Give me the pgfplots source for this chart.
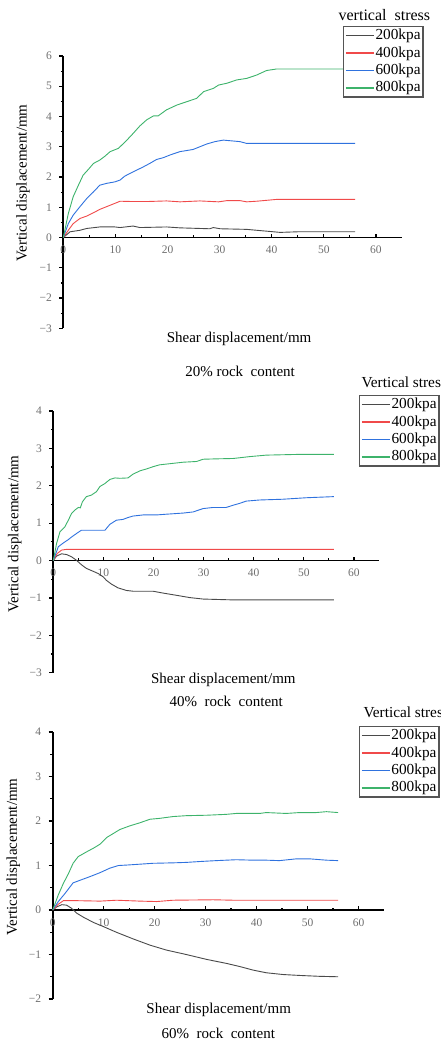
\documentclass[border=0pt]{standalone}
\usepackage{pgfplots}
\pgfplotsset{compat=1.18}
\usepackage{fontspec}
\setmainfont{Liberation Serif}

\definecolor{c200}{HTML}{4A4A4A}
\definecolor{c400}{HTML}{F04A4A}
\definecolor{c600}{HTML}{2F72DE}
\definecolor{c800}{HTML}{3DB36B}
\definecolor{frame}{HTML}{555555}
\definecolor{tickgray}{HTML}{6E6E6E}

\newcommand{\labfont}{\fontsize{15}{17}\selectfont}
\newcommand{\legfont}{\fontsize{15.3}{17}\selectfont}
\newcommand{\legtitlefont}{\fontsize{16}{18}\selectfont}

\pgfplotsset{
  shearplot/.style={
    scale only axis,
    anchor=south west,
    axis x line=middle,
    axis y line=left,
    axis line style={line width=1.8pt,-},
    xmin=0, xmax=65,
    xtick={0,10,...,60},
    xticklabels={0,10,20,30,40,50,60},
    minor x tick num=1,
    minor y tick num=1,
    xtick align=inside,
    ytick align=outside,
    major tick length=4pt,
    minor tick length=2.5pt,
    tick style={black,line width=1.2pt},
    hide obscured x ticks=false,
    hide obscured y ticks=false,
    ticklabel style={font=\fontsize{11.5}{12}\selectfont, text=tickgray},
    xticklabel style={yshift=-5pt},
    yticklabel style={xshift=-4pt},
    clip=false,
    every axis plot/.append style={line width=0.9pt},
    legend style={draw=frame, line width=1.3pt, font=\legfont,
      anchor=north west, inner sep=1.5pt, row sep=2.4pt,
      nodes={inner sep=1pt, text height=10.5pt, text depth=2.5pt},
      cells={anchor=west}},
    legend image code/.code={\draw[#1, line width=1.3pt] (1pt,0pt) -- (29pt,0pt);},
  },
  xlab/.style 2 args={every axis x label/.style={at={(axis description cs:#1,#2)}, anchor=center, font=\labfont}},
  ylab/.style 2 args={every axis y label/.style={at={(axis description cs:#1,#2)}, anchor=center, rotate=90, font=\labfont}},
  ttl/.style 2 args={every axis title/.style={at={(axis description cs:#1,#2)}, anchor=center, font=\labfont}},
}

\begin{document}
\begin{tikzpicture}
\path[use as bounding box] (0pt,0pt) rectangle (441pt,-1043pt);

% ---------- 20% rock content ----------
\begin{axis}[shearplot,
  at={(63.3pt,-328.3pt)}, width=338.7pt, height=272.3pt,
  ymin=-3, ymax=6, ytick={-3,...,6},
  yticklabels={−3,−2,−1,0,1,2,3,4,5,6},
  xlabel={Shear displacement/mm}, xlab={0.519}{-0.039},
  ylabel={Vertical displacement/mm}, ylab={-0.119}{0.534},
  title={20\% rock\ \ content}, ttl={0.522}{-0.160},
  legend style={at={(axis description cs:0.826,1.110)}},
]
\addplot[c200] coordinates {(0,0)(1.3,0.19)(3.2,0.24)(4.5,0.3)(7.0,0.35)(9.9,0.35)(10.9,0.33)(13.4,0.38)(14.7,0.33)(17.3,0.34)(19.8,0.35)(22.4,0.32)(26.2,0.3)(28.1,0.29)(28.8,0.33)(30.1,0.29)(35.2,0.27)(38.4,0.22)(39.7,0.2)(41.6,0.17)(45,0.19)(56,0.19)};
\addplot[c400] coordinates {(0,0)(0.96,0.24)(1.9,0.46)(3.2,0.63)(4.5,0.71)(5.8,0.82)(7.0,0.93)(8.3,1.02)(9.9,1.13)(10.9,1.2)(13.4,1.19)(16,1.19)(19.8,1.21)(22.4,1.18)(26.2,1.21)(29.8,1.18)(31.4,1.22)(33.9,1.22)(35.2,1.18)(37.1,1.2)(39,1.23)(40.9,1.26)(56,1.26)};
\addplot[c600] coordinates {(0,0)(0.96,0.46)(1.9,0.74)(3.2,1.02)(4.5,1.29)(5.8,1.51)(7.0,1.73)(8.3,1.79)(9.9,1.84)(10.9,1.9)(11.8,2.03)(13.4,2.17)(14.7,2.28)(15.4,2.34)(16.6,2.45)(17.9,2.58)(19.2,2.64)(20.5,2.73)(22.4,2.84)(24.9,2.91)(26.2,3.0)(27.5,3.09)(29.1,3.17)(30.7,3.22)(32.0,3.2)(33.9,3.17)(35.2,3.11)(56,3.11)};
\addplot[c800] coordinates {(0,0)(0.96,0.79)(1.9,1.35)(2.9,1.73)(3.8,2.06)(4.8,2.25)(5.8,2.45)(7.0,2.56)(8.0,2.69)(9.0,2.84)(10.6,2.95)(12.2,3.22)(13.4,3.44)(14.7,3.69)(16.0,3.89)(17.3,4.02)(18.2,4.02)(19.8,4.22)(21.8,4.38)(23.7,4.49)(25.6,4.6)(26.9,4.82)(28.8,4.93)(29.8,5.04)(31.4,5.1)(33.3,5.21)(35.2,5.26)(37.1,5.37)(39.0,5.52)(40.9,5.57)(56,5.57)};
\legend{200kpa,400kpa,600kpa,800kpa}
\end{axis}
\node[font=\legtitlefont] at (384.4pt,-15pt) {vertical\ \ stress};

% ---------- 40% rock content ----------
\begin{axis}[shearplot,
  at={(53.3pt,-672.7pt)}, width=325.7pt, height=261.7pt,
  ymin=-3, ymax=4, ytick={-3,...,4},
  yticklabels={−3,−2,−1,0,1,2,3,4},
  xlabel={Shear displacement/mm}, xlab={0.522}{-0.028},
  ylabel={Vertical displacement/mm}, ylab={-0.118}{0.530},
  title={40\%\ \ rock\ \ content}, ttl={0.531}{-0.111},
  legend style={at={(axis description cs:0.939,1.061)}},
]
\addplot[c200] coordinates {(0,0)(0.66,0.12)(1.66,0.18)(2.66,0.16)(3.65,0.1)(4.6,0.01)(5.6,-0.11)(6.6,-0.21)(8.0,-0.29)(9.0,-0.35)(10.0,-0.44)(10.6,-0.53)(11.6,-0.63)(12.9,-0.73)(14.6,-0.8)(15.9,-0.82)(19.9,-0.82)(21.9,-0.87)(24.6,-0.93)(27.2,-0.99)(29.9,-1.03)(32.5,-1.04)(35.2,-1.05)(56,-1.05)};
\addplot[c400] coordinates {(0,0)(0.8,0.19)(1.66,0.28)(2.66,0.3)(56,0.3)};
\addplot[c600] coordinates {(0,0)(1.0,0.37)(2.0,0.47)(3.0,0.56)(3.65,0.63)(4.6,0.72)(5.6,0.81)(6.6,0.81)(10.3,0.81)(11.3,0.97)(12.6,1.08)(13.9,1.1)(14.9,1.15)(15.9,1.19)(17.9,1.22)(20.6,1.22)(22.6,1.24)(25.9,1.27)(27.9,1.3)(29.9,1.39)(31.9,1.42)(34.5,1.42)(35.9,1.48)(37.2,1.53)(38.5,1.59)(41.2,1.62)(45.8,1.64)(50.5,1.68)(56,1.71)};
\addplot[c800] coordinates {(0,0)(0.66,0.46)(1.33,0.77)(2.3,0.9)(3.0,1.08)(3.65,1.26)(4.3,1.35)(5.0,1.42)(5.4,1.41)(5.8,1.57)(6.6,1.71)(7.6,1.75)(8.6,1.84)(9.3,1.98)(10.3,2.06)(11.3,2.17)(12.3,2.21)(13.3,2.2)(14.9,2.21)(15.9,2.31)(17.3,2.4)(18.6,2.45)(19.9,2.51)(21.2,2.56)(23.9,2.6)(25.9,2.63)(28.6,2.65)(29.9,2.71)(32.5,2.72)(35.9,2.73)(39.2,2.78)(42.5,2.82)(49.1,2.84)(56,2.84)};
\legend{200kpa,400kpa,600kpa,800kpa}
\end{axis}
\node[font=\legfont, anchor=west] at (358pt,-382pt) {Vertical stress};

% ---------- 60% rock content ----------
\begin{axis}[shearplot,
  at={(52.7pt,-999pt)}, width=331.3pt, height=267pt,
  ymin=-2, ymax=4, ytick={-2,...,4},
  yticklabels={−2,−1,0,1,2,3,4},
  xlabel={Shear displacement/mm}, xlab={0.501}{-0.039},
  ylabel={Vertical displacement/mm}, ylab={-0.119}{0.532},
  title={60\%\ \ rock\ \ content}, ttl={0.5}{-0.128},
  legend style={at={(axis description cs:0.9245,1.0225)}},
]
\addplot[c200] coordinates {(0,0)(0.8,0.07)(1.8,0.12)(2.7,0.11)(3.7,0.04)(4.7,-0.07)(6.0,-0.16)(8.0,-0.28)(9.9,-0.37)(12.5,-0.5)(15.8,-0.65)(19.1,-0.79)(22.3,-0.9)(26.2,-1.0)(30.2,-1.11)(34.1,-1.2)(36.7,-1.27)(39.3,-1.35)(41.9,-1.41)(45.2,-1.45)(48.4,-1.47)(52.3,-1.49)(56,-1.5)};
\addplot[c400] coordinates {(0,0)(1.1,0.13)(2.1,0.21)(4.7,0.21)(9.3,0.2)(12.5,0.22)(17.1,0.2)(20.4,0.19)(23.6,0.22)(31.5,0.23)(35.4,0.22)(39.3,0.22)(45,0.22)(50,0.22)(56,0.22)};
\addplot[c600] coordinates {(0,0)(1.1,0.19)(2.4,0.37)(4.0,0.61)(5.4,0.67)(7.3,0.75)(9.3,0.84)(11.2,0.94)(12.9,1.0)(14.5,1.01)(17.1,1.03)(19.7,1.05)(23.6,1.06)(26.2,1.07)(28.9,1.09)(32.1,1.11)(36.0,1.13)(39.3,1.12)(41.9,1.12)(44.5,1.11)(47.8,1.15)(50.4,1.15)(53.7,1.12)(56,1.11)};
\addplot[c800] coordinates {(0,0)(1.1,0.34)(2.1,0.6)(3.1,0.82)(4.0,1.05)(5.0,1.2)(6.7,1.31)(8.0,1.39)(9.3,1.48)(10.6,1.63)(11.9,1.72)(13.2,1.81)(15.1,1.89)(17.1,1.96)(19.1,2.04)(21.0,2.06)(23.6,2.1)(26.2,2.12)(30.2,2.13)(34.1,2.15)(36.0,2.17)(40.6,2.17)(41.9,2.19)(45.8,2.17)(48.4,2.19)(51.7,2.19)(53.7,2.21)(56,2.19)};
\legend{200kpa,400kpa,600kpa,800kpa}
\end{axis}
\node[font=\legfont, anchor=west] at (360pt,-712pt) {Vertical stress};
\end{tikzpicture}
\end{document}
